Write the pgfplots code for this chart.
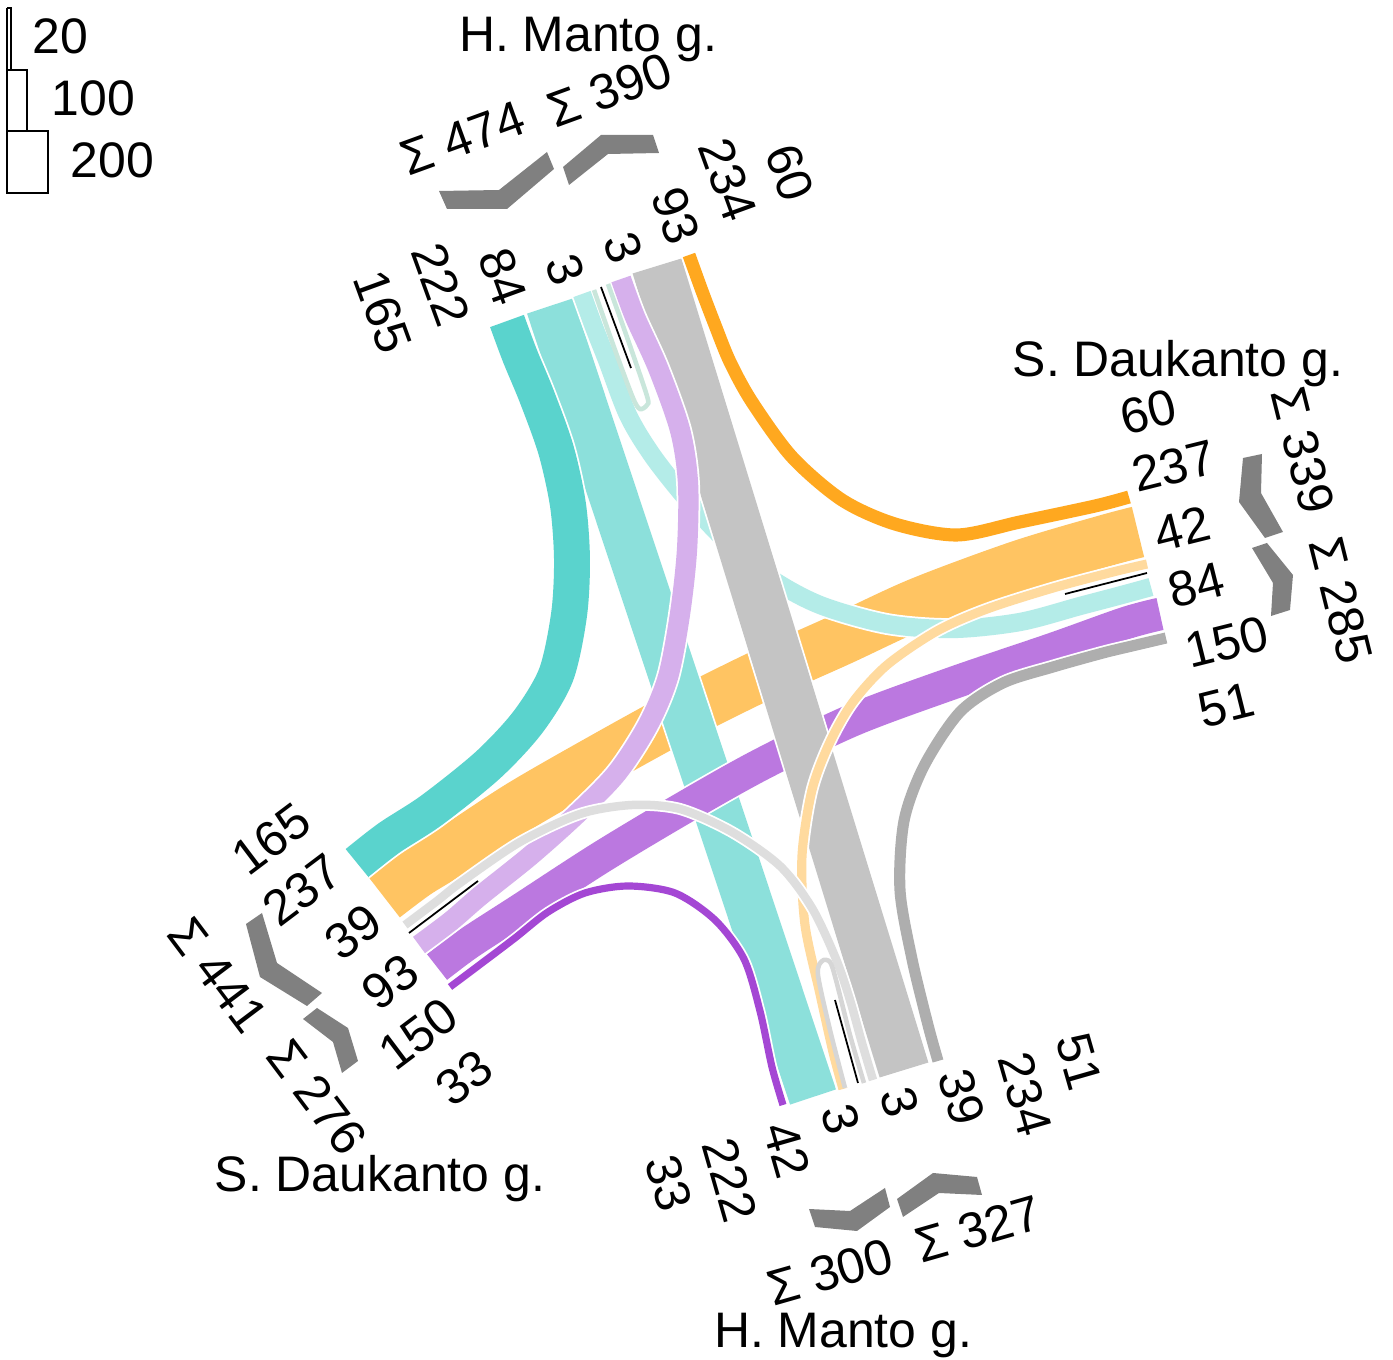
\documentclass[border=0pt]{standalone}
\usepackage{fontspec}
\setmainfont{Liberation Sans}
\usepackage{pgfplots}
\pgfplotsset{compat=1.18}
\definecolor{tealA}{HTML}{5AD3CD}
\definecolor{tealB}{HTML}{8CE0DB}
\definecolor{tealC}{HTML}{B4ECE8}
\definecolor{oraA}{HTML}{FFA81F}
\definecolor{oraB}{HTML}{FFC462}
\definecolor{oraC}{HTML}{FFDA9E}
\definecolor{purA}{HTML}{D6B0EC}
\definecolor{purB}{HTML}{BB78E0}
\definecolor{purC}{HTML}{A447D4}
\definecolor{grayA}{HTML}{C4C4C4}
\definecolor{grayB}{HTML}{AEAEAE}
\definecolor{grayC}{HTML}{DEDEDE}
\definecolor{chev}{HTML}{808080}
\definecolor{mint}{HTML}{C9E6DB}
\definecolor{loopgray}{HTML}{D6D6D6}
\pgfplotsset{
  band/.style 2 args={smooth, tension=0.5, color=#1, line width=#2*0.062pt,
     preaction={draw=white, line width=#2*0.062pt+1.0pt}},
  sband/.style 2 args={color=#1, line width=#2*0.062pt,
     preaction={draw=white, line width=#2*0.062pt+1.0pt}},
}
\tikzset{lab/.style={font=\fontsize{14.2}{17}\selectfont, inner sep=0pt, anchor=center},
         street/.style={font=\fontsize{14.2}{17}\selectfont, inner sep=0pt, anchor=base}}
\begin{document}
\begin{tikzpicture}
\begin{axis}[width=139.3mm,height=136mm,scale only axis,
  xmin=0,xmax=1393,ymin=0,ymax=1360,y dir=reverse,hide axis,clip=false]
\addplot[draw=none] coordinates {(0,0) (1393,1360)};
% ---- through movements
\addplot[band={oraB}{237}] coordinates {(1138,532) (1104,541) (1020,566) (920,603) (840,640) (760,676) (680,716) (600,760) (520,806) (450,852) (416,873) (384,897)};
\addplot[sband={tealB}{222}] coordinates {(550,306) (813,1097)};
\addplot[band={purB}{150}] coordinates {(437,967) (469,943) (520,910) (600,858) (680,810) (760,765) (853,720) (953,683) (1053,649) (1126,623) (1160,614)};
\addplot[band={tealC}{84}] coordinates {(582,294) (594,327) (607,360) (628,415) (652,455) (685,497) (725,540) (770,578) (820,605) (887,624) (953,629) (1020,622) (1080,606) (1118,596) (1151,587)};
\addplot[sband={grayA}{234}] coordinates {(657,266) (904,1070)};
% ---- left turns
\addplot[band={purA}{93}] coordinates {(419,945) (451,921) (480,896) (530,856) (577,814) (617,773) (648,725) (668,677) (680,614) (687,550) (688,483) (680,430) (658,368) (635,317) (621,279)};
\addplot[band={oraC}{42}] coordinates {(1147,564) (1113,572) (1053,588) (987,609) (937,631) (887,665) (853,702) (830,742) (812,790) (802,856) (805,925) (820,994) (833,1052) (843,1089)};
\addplot[band={grayC}{39}] coordinates {(873,1080) (862,1043) (850,1000) (836,959) (812,908) (780,866) (732,832) (680,809) (632,805) (580,814) (520,842) (460,883) (437,901) (405,925)};
% ---- right turns
\addplot[band={tealA}{165}] coordinates {(507,321) (520,356) (537,397) (556,450) (568,505) (572,560) (569,615) (556,675) (528,722) (488,765) (432,810) (389,838) (357,863)};
\addplot[band={oraA}{60}] coordinates {(689,255) (702,291) (715,325) (730,362) (752,402) (792,457) (842,500) (895,524) (957,535) (1020,522) (1095,506) (1129,497)};
\addplot[band={purC}{33}] coordinates {(450,987) (482,963) (515,938) (548,912) (585,893) (628,886) (675,893) (715,920) (744,959) (760,1011) (772,1067) (783,1105)};
\addplot[band={grayB}{51}] coordinates {(938,1061) (928,1025) (912,959) (900,890) (904,821) (924,766) (960,712) (1003,683) (1053,667) (1103,653) (1132,646) (1166,638)};
% ---- U-turns
\addplot[smooth, tension=0.5, draw=mint, line width=1.3pt, fill=white] coordinates {(594,290) (615,350) (633,398) (640,409) (647,405) (647,396) (628,340) (608,284)};
\addplot[black, line width=0.5pt] coordinates {(601,287) (631,368)};
\addplot[smooth, tension=0.5, draw=loopgray, line width=1.3pt, fill=white] coordinates {(845,1088) (830,1030) (818,975) (822,961) (830,962) (836,980) (850,1035) (864,1083)};
\addplot[black, line width=0.5pt] coordinates {(835,1000) (858,1083)};
\addplot[black, line width=0.5pt] coordinates {(1065,594) (1147,573)};
\addplot[black, line width=0.5pt] coordinates {(409,933) (478,881)};
% ---- chevrons
\addplot[fill=chev, draw=none] coordinates {(439,191) (499,190) (547,152) (554,169) (507,209) (447,209)};
\addplot[fill=chev, draw=none] coordinates {(563,167) (601,135) (653,135) (659,153) (608,154) (569,185)};
\addplot[fill=chev, draw=none] coordinates {(1243,458) (1262,454) (1261,493) (1283,532) (1265,538) (1239,502)};
\addplot[fill=chev, draw=none] coordinates {(1252,548) (1267,543) (1293,575) (1290,610) (1271,616) (1273,583)};
\addplot[fill=chev, draw=none] coordinates {(809,1209) (850,1211) (885,1188) (890,1207) (857,1231) (815,1227)};
\addplot[fill=chev, draw=none] coordinates {(897,1199) (933,1173) (977,1177) (982,1195) (939,1193) (903,1217)};
\addplot[fill=chev, draw=none] coordinates {(246,924) (262,913) (277,963) (322,993) (307,1006) (260,977)};
\addplot[fill=chev, draw=none] coordinates {(303,1019) (317,1008) (348,1028) (358,1061) (342,1073) (333,1042)};
% ---- legend boxes
\addplot[black, line width=0.4pt] coordinates {(7,8) (11,8) (11,70) (7,70) (7,8)};
\addplot[black, line width=0.4pt] coordinates {(7,70) (27,70) (27,131) (7,131) (7,70)};
\addplot[black, line width=0.4pt] coordinates {(7,131) (48,131) (48,193) (7,193) (7,131)};
\node[lab, anchor=west] at (axis cs:32,36) {20};
\node[lab, anchor=west] at (axis cs:51,98) {100};
\node[lab, anchor=west] at (axis cs:70,160) {200};
% ---- street names
\node[street] at (axis cs:588,52) {H. Manto g.};
\node[street] at (axis cs:843,1348) {H. Manto g.};
\node[street] at (axis cs:1178,377) {S. Daukanto g.};
\node[street] at (axis cs:380,1192) {S. Daukanto g.};
% ---- top labels
\node[lab, rotate=-70] at (axis cs:383,312) {165};
\node[lab, rotate=-70] at (axis cs:441,285) {222};
\node[lab, rotate=-70] at (axis cs:503,277) {84};
\node[lab, rotate=-70] at (axis cs:565,270) {3};
\node[lab, rotate=-70] at (axis cs:623,248) {3};
\node[lab, rotate=-70] at (axis cs:676,216) {93};
\node[lab, rotate=-70] at (axis cs:728,180) {234};
\node[lab, rotate=-70] at (axis cs:790,173) {60};
\node[lab, rotate=20] at (axis cs:463,138) {Σ 474};
\node[lab, rotate=20] at (axis cs:610,90) {Σ 390};
% ---- right labels
\node[lab, rotate=14] at (axis cs:1148,412) {60};
\node[lab, rotate=14] at (axis cs:1174,466) {237};
\node[lab, rotate=14] at (axis cs:1182,529) {42};
\node[lab, rotate=14] at (axis cs:1196,585) {84};
\node[lab, rotate=14] at (axis cs:1227,642) {150};
\node[lab, rotate=14] at (axis cs:1226,705) {51};
\node[lab, rotate=-76] at (axis cs:1303,450) {Σ 339};
\node[lab, rotate=-76] at (axis cs:1341,600) {Σ 285};
% ---- bottom labels
\node[lab, rotate=-74] at (axis cs:669,1183) {33};
\node[lab, rotate=-74] at (axis cs:730,1180) {222};
\node[lab, rotate=-74] at (axis cs:787,1150) {42};
\node[lab, rotate=-74] at (axis cs:841,1119) {3};
\node[lab, rotate=-74] at (axis cs:900,1102) {3};
\node[lab, rotate=-74] at (axis cs:962,1097) {39};
\node[lab, rotate=-74] at (axis cs:1025,1094) {234};
\node[lab, rotate=-74] at (axis cs:1079,1062) {51};
\node[lab, rotate=16] at (axis cs:830,1272) {Σ 300};
\node[lab, rotate=16] at (axis cs:978,1229) {Σ 327};
% ---- left labels
\node[lab, rotate=37] at (axis cs:271,839) {165};
\node[lab, rotate=37] at (axis cs:302,890) {237};
\node[lab, rotate=37] at (axis cs:353,932) {39};
\node[lab, rotate=37] at (axis cs:390,982) {93};
\node[lab, rotate=37] at (axis cs:418,1034) {150};
\node[lab, rotate=37] at (axis cs:464,1078) {33};
\node[lab, rotate=-53] at (axis cs:218,975) {Σ 441};
\node[lab, rotate=-53] at (axis cs:317,1097) {Σ 276};
\end{axis}
\end{tikzpicture}
\end{document}
